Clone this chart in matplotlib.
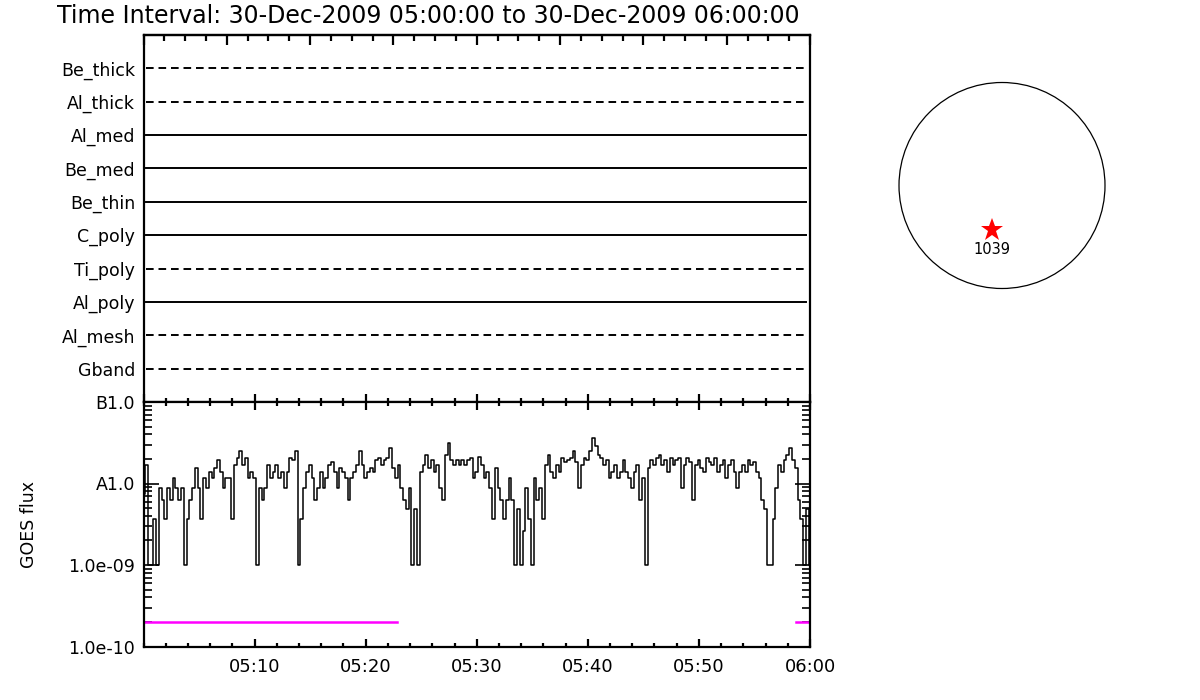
import numpy as np
import matplotlib
matplotlib.use("Agg")
import matplotlib.pyplot as plt
from matplotlib.ticker import MultipleLocator, FixedLocator, NullFormatter, LogLocator
from matplotlib.patches import Circle

# ---------------- data ----------------
title = "Time Interval: 30-Dec-2009 05:00:00 to 30-Dec-2009 06:00:00"

channels = ["Gband", "Al_mesh", "Al_poly", "Ti_poly", "C_poly",
            "Be_thin", "Be_med", "Al_med", "Al_thick", "Be_thick"]
channel_dashed = [True, True, False, True, False,
                  False, False, False, True, True]

# GOES flux, units of 1e-9 W m^-2, 15 s cadence from 05:00:00
goes_flux_1e9 = [
    7.5, 16.9, 1.0, 1.0, 3.7, 1.0, 8.8, 6.3, 3.7, 8.8,
    6.3, 11.6, 8.8, 6.3, 8.8, 1.0, 3.7, 6.3, 8.8, 15.4,
    8.8, 3.7, 11.6, 8.8, 14.0, 11.6, 15.4, 19.5, 14.0, 8.8,
    11.6, 11.6, 3.7, 16.9, 20.5, 24.7, 16.9, 20.5, 11.6, 14.0,
    11.6, 1.0, 8.8, 6.3, 8.8, 16.9, 11.6, 14.0, 16.9, 11.6,
    14.0, 8.8, 14.0, 20.5, 19.5, 24.7, 1.0, 3.7, 8.8, 14.0,
    16.9, 11.6, 6.3, 8.8, 14.0, 8.8, 11.6, 16.9, 18.5, 14.0,
    8.8, 15.4, 14.0, 11.6, 6.3, 11.6, 14.0, 16.9, 24.7, 16.9,
    11.6, 14.0, 15.4, 14.0, 19.5, 20.5, 16.9, 19.5, 20.5, 27.0,
    15.4, 11.6, 16.9, 8.8, 6.3, 4.8, 8.8, 1.0, 4.8, 1.0,
    14.0, 16.9, 22.5, 15.4, 19.5, 14.0, 16.9, 8.8, 6.3, 22.5,
    31.0, 19.5, 16.9, 19.5, 16.9, 19.5, 16.9, 19.5, 20.5, 11.6,
    14.0, 21.4, 16.9, 11.6, 14.0, 8.8, 3.7, 15.4, 8.8, 6.3,
    3.7, 6.3, 11.6, 6.3, 1.0, 4.8, 1.0, 2.6, 8.8, 3.7,
    1.0, 11.6, 6.3, 8.8, 3.7, 16.9, 22.5, 14.0, 11.6, 16.9,
    14.0, 20.5, 18.5, 19.5, 20.5, 24.7, 18.5, 8.8, 16.9, 20.5,
    19.5, 24.7, 36.0, 29.0, 22.5, 20.5, 16.9, 19.5, 11.6, 14.0,
    16.9, 11.6, 14.0, 19.5, 14.0, 11.6, 8.8, 14.0, 16.9, 6.3,
    11.6, 1.0, 15.4, 19.5, 16.9, 20.5, 22.5, 16.9, 19.5, 14.0,
    20.5, 16.9, 19.5, 20.5, 8.8, 16.9, 20.5, 18.5, 6.3, 16.9,
    19.5, 15.4, 14.0, 20.5, 18.5, 16.9, 20.5, 14.0, 16.9, 19.5,
    11.6, 16.9, 19.5, 14.0, 8.8, 14.0, 16.9, 14.0, 19.5, 16.9,
    18.5, 14.0, 11.6, 6.3, 4.8, 1.0, 1.0, 3.7, 8.8, 16.9,
    14.0, 19.5, 22.5, 27.0, 19.5, 15.4, 6.3, 3.7, 1.0, 4.8, 1.0,
]
goes_step_min = 0.25

# flagged intervals (minutes after 05:00) drawn in magenta
flag_start_min = [0.0, 58.7]
flag_end_min = [22.8, 60.0]
flag_level = 2.0e-10

x_tick_min = [10, 20, 30, 40, 50, 60]
x_tick_labels = ["05:10", "05:20", "05:30", "05:40", "05:50", "06:00"]
y_tick_vals = [1e-10, 1e-9, 1e-8, 1e-7]
y_tick_labels = ["1.0e-10", "1.0e-09", "A1.0", "B1.0"]

region_label = "1039"
region_xy = (-0.097, -0.43)   # solar-disk fraction of radius

# ---------------- figure ----------------
plt.rcParams["font.family"] = ["DejaVu Sans"]
plt.rcParams["lines.scale_dashes"] = False
fig = plt.figure(figsize=(12, 7), dpi=100)
W, H = 1200.0, 700.0

def box(x0, y0, x1, y1):
    return [x0 / W, 1 - y1 / H, (x1 - x0) / W, (y1 - y0) / H]

ax1 = fig.add_axes(box(143.5, 35, 810, 402))
ax2 = fig.add_axes(box(143.5, 402, 810, 646.5))

for ax in (ax1, ax2):
    for s in ax.spines.values():
        s.set_linewidth(1.6)
    ax.set_xlim(0, 60)

# ---- top panel ----
ypos = np.arange(1, len(channels) + 1)
for y, dashed in zip(ypos, channel_dashed):
    ax1.plot([0.2, 59.6], [y, y], color="black", lw=1.4,
             linestyle=(0, (5.5, 3.5)) if dashed else "-")
ax1.set_ylim(0, len(channels) + 1)
ax1.set_yticks(ypos)
ax1.set_yticklabels(channels, fontsize=12.5)
ax1.tick_params(axis="y", length=0, pad=6)
ax1.xaxis.set_major_locator(MultipleLocator(10))
ax1.xaxis.set_minor_locator(MultipleLocator(2))
ax1.tick_params(axis="x", which="both", direction="in", labelbottom=False,
                bottom=True, top=False)
ax1.tick_params(axis="x", which="major", length=6, width=1.6)
ax1.tick_params(axis="x", which="minor", length=3, width=1.6)
sec = ax1.secondary_xaxis("top")
sec.xaxis.set_major_locator(MultipleLocator(7.5))
sec.xaxis.set_minor_locator(MultipleLocator(1.875))
sec.tick_params(which="both", direction="in", labeltop=False, width=1.6)
sec.tick_params(which="major", length=7)
sec.tick_params(which="minor", length=4)
sec.spines["top"].set_linewidth(1.6)

# ---- bottom panel ----
t = np.arange(len(goes_flux_1e9)) * goes_step_min
flux = np.array(goes_flux_1e9) * 1e-9
ax2.plot(t, flux, color="black", lw=1.1, drawstyle="steps-mid")
for a, b in zip(flag_start_min, flag_end_min):
    ax2.plot([a, b], [flag_level, flag_level], color="#ff00ff", lw=1.8)
ax2.set_yscale("log")
ax2.set_ylim(1e-10, 1e-7)
ax2.yaxis.set_major_locator(FixedLocator(y_tick_vals))
ax2.set_yticklabels(y_tick_labels, fontsize=12.5)
ax2.yaxis.set_minor_locator(LogLocator(base=10, subs=np.arange(2, 10)))
ax2.yaxis.set_minor_formatter(NullFormatter())
ax2.tick_params(axis="y", which="both", direction="in", left=True, right=True, width=1.2)
ax2.tick_params(axis="y", which="major", length=11, pad=6)
ax2.tick_params(axis="y", which="minor", length=6)
ax2.set_xticks(x_tick_min)
ax2.set_xticklabels(x_tick_labels, fontsize=13)
ax2.xaxis.set_minor_locator(MultipleLocator(2))
ax2.tick_params(axis="x", which="both", direction="in", top=True, bottom=True, width=1.6)
ax2.tick_params(axis="x", which="major", length=6, pad=8)
ax2.tick_params(axis="x", which="minor", length=3)
ax2.set_ylabel("GOES flux", fontsize=12.5)
ax2.yaxis.set_label_coords(-105 / 666.5, 0.5)

# ---- title ----
fig.text(57 / W, 1 - 16 / H, title, fontsize=17, ha="left", va="center")

# ---- solar disk ----
cx, cy, r = 1002, 185.5, 103
half = 125
ax3 = fig.add_axes(box(cx - half, cy - half, cx + half, cy + half))
lim = half / r
ax3.set_xlim(-lim, lim)
ax3.set_ylim(-lim, lim)
ax3.set_aspect("equal")
ax3.axis("off")
ax3.add_patch(Circle((0, 0), 1.0, fill=False, color="black", lw=0.9))
ax3.plot(region_xy[0], region_xy[1], marker="*", color="red", markersize=17,
         markeredgewidth=0)
ax3.text(region_xy[0], region_xy[1] - 0.19, region_label, fontsize=10.5,
         ha="center", va="center")

fig.savefig("out.png", dpi=100)
